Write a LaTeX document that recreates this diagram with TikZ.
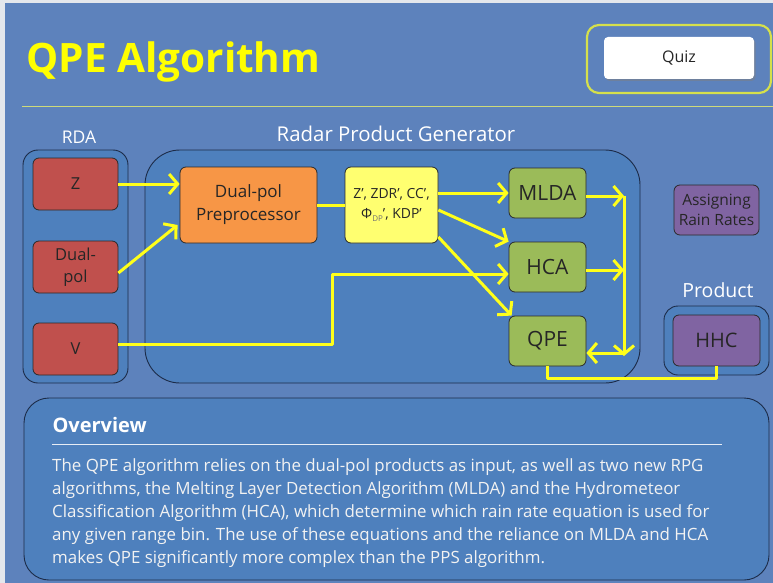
\documentclass[tikz,border=0pt]{standalone}
\usepackage{fontspec}
\setmainfont{Open Sans}
\usetikzlibrary{arrows.meta,calc,shadows}
\definecolor{pagebg}{HTML}{5D82BC}
\definecolor{pageedge}{HTML}{E4E7EC}
\definecolor{panelfill}{HTML}{4E80BD}
\definecolor{panelline}{HTML}{1C2B48}
\definecolor{titleyel}{HTML}{FFFF00}
\definecolor{ruleline}{HTML}{CEDB7A}
\definecolor{quizline}{HTML}{D5E04B}
\definecolor{rdared}{HTML}{C0504D}
\definecolor{preorange}{HTML}{F79646}
\definecolor{dpyellow}{HTML}{FFFF70}
\definecolor{algogreen}{HTML}{9BBB59}
\definecolor{prodviolet}{HTML}{8064A2}
\definecolor{boxline}{HTML}{2A2A2A}
\definecolor{flowyel}{HTML}{FFFF1A}

\begin{document}
\begin{tikzpicture}[x=1pt, y=-1pt,
  panel/.style={draw=panelline, fill=panelfill, line width=0.9pt},
  box/.style={draw=boxline, line width=0.8pt, rounded corners=6pt,
              align=center, inner sep=0pt, text=black!85},
  rda/.style={box, fill=rdared, minimum width=85pt, minimum height=52pt,
              font=\fontsize{16.5}{22}\selectfont},
  algo/.style={box, fill=algogreen, minimum width=77pt, minimum height=50pt,
               font=\fontsize{21}{24}\selectfont},
  prod/.style={box, fill=prodviolet},
  head/.style={text=white, font=\fontsize{18}{20}\selectfont},
  arr/.style={-{Straight Barb[length=8.5pt,width=20pt]}, draw=flowyel,
              line width=3pt, line join=round},
  flow/.style={draw=flowyel, line width=3pt, line join=round},
]
\useasboundingbox (0,0) rectangle (773,583);
\fill[pageedge] (0,0) rectangle (773,583);
\fill[pagebg] (5,3) rectangle (773,583);

% ── Header ──────────────────────────────────────────────────────────────
\node[anchor=west, text=titleyel, font=\fontsize{40.5}{44}\bfseries] (title) at (23,62)
  {QPE Algorithm};
\draw[ruleline, line width=1pt] (22,107) -- (773,107);
\draw[quizline, line width=2.2pt, rounded corners=12pt] (587,25) rectangle (771,93);
\node[box, draw=none, fill=white, rounded corners=4pt, minimum width=150pt,
      minimum height=42pt, drop shadow={shadow xshift=1.5pt, shadow yshift=-2pt, opacity=0.5},
      font=\fontsize{16}{18}\selectfont] (quiz) at (679,58) {Quiz};

% ── Containers ──────────────────────────────────────────────────────────
\draw[panel, rounded corners=15pt] (23,150) rectangle (128,383);
\draw[panel, rounded corners=35pt] (145,150) rectangle (640,383);
\draw[panel, rounded corners=14pt] (664,306) rectangle (769,375);
\node[head, font=\fontsize{17.5}{20}\selectfont] (rdalab) at (79,137) {RDA};
\node[head, font=\fontsize{20.4}{22}\selectfont] (rpglab) at (396,134) {Radar Product Generator};
\node[head, font=\fontsize{19.5}{22}\selectfont] (prodlab) at (718,290) {Product};

% ── Blocks ──────────────────────────────────────────────────────────────
\node[rda] (z) at (75.5,184) {Z};
\node[rda] (dual) at (75.5,267) {Dual-\\pol};
\node[rda] (v) at (75.5,349) {V};

\node[box, fill=preorange, minimum width=137pt, minimum height=76pt,
      font=\fontsize{17}{23}\selectfont] (pre) at (248.5,205) {Dual-pol\\Preprocessor};
\node[box, fill=dpyellow, minimum width=93pt, minimum height=76pt,
      font=\fontsize{13.9}{20}\selectfont] (dp) at (391.5,205)
  {Z’, ZDR’, CC’,\\ Φ\raisebox{-0.35ex}{\fontsize{8}{8}\selectfont\color{black!55}DP}’, KDP’};

\node[algo] (mlda) at (547.5,193) {MLDA};
\node[algo] (hca) at (547.5,267) {HCA};
\node[algo] (qpe) at (547.5,341) {QPE};

\node[prod, minimum width=85pt, minimum height=50pt,
      font=\fontsize{15.5}{20}\selectfont] (rain) at (716.5,210) {Assigning\\Rain Rates};
\node[prod, minimum width=87pt, minimum height=51pt,
      font=\fontsize{20}{22}\selectfont] (hhc) at (716.5,340.5) {HHC};

% ── Edges ───────────────────────────────────────────────────────────────
\draw[arr] (z.east) -- (pre.west |- z.east);
\draw[arr] ($(dual.east)+(0,6)$) -- ($(pre.west)+(-2,20)$);
\draw[arr] ($(v.east)+(0,-5)$) -- ++(214,0) |- ($(hca.west)+(0,7)$);
\draw[flow] (pre.east) -- (dp.west);
\draw[arr] (dp.east |- mlda.west) -- (mlda.west);
\draw[arr] ($(dp.east)+(0,5)$) -- (hca.north west);
\draw[arr] ($(dp.east)+(0,32)$) -- ($(qpe.north west)+(3,0)$);
\coordinate (bus) at (624,196);
\draw[arr] ($(mlda.east)+(0,3)$) -- (bus);
\draw[arr] ($(hca.east)+(0,3)$) -- (bus |- {$(hca.east)+(0,3)$});
\draw[arr] (bus) -- (624,356);
\draw[arr] (624,353) -- (qpe.east |- {(0,353)});
\draw[flow] (qpe.south) -- ++(0,12) -| (hhc.south);

% ── Overview ────────────────────────────────────────────────────────────
\draw[panel, rounded corners=25pt] (24,398) rectangle (769,580);
\node[anchor=west, text=white, font=\fontsize{20}{22}\bfseries] (ovhead) at (49,425) {Overview};
\draw[white!85!pagebg, line width=0.9pt] (52,444) -- (722,444);
\node[anchor=north west, align=left, text=white!95!black, inner sep=0pt,
      font=\fontsize{16.9}{23}\selectfont] (ovtext) at (52,458)
  {The QPE algorithm relies on the dual-pol products as input, as well as two new RPG\\
   algorithms, the Melting Layer Detection Algorithm (MLDA) and the Hydrometeor\\
   Classification Algorithm (HCA), which determine which rain rate equation is used for\\
   any given range bin. The use of these equations and the reliance on MLDA and HCA\\
   makes QPE significantly more complex than the PPS algorithm.};

\end{tikzpicture}
\end{document}
